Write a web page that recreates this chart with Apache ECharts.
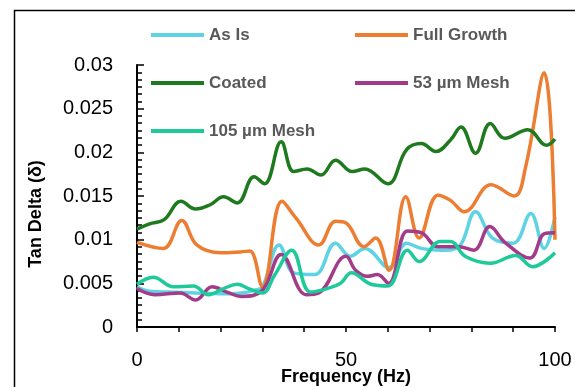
<!DOCTYPE html>
<html>
<head>
<meta charset="utf-8">
<script src="https://cdn.jsdelivr.net/npm/echarts@6/dist/echarts.min.js"></script>
<style>
  html, body { margin: 0; padding: 0; background: #fff; }
  #chart { width: 575px; height: 387px; }
</style>
</head>
<body>
<div id="chart"></div>
<script>
// [frequency (Hz), tan delta]
const asIs = [
  [0, 0.0046], [3, 0.0041], [8, 0.0040], [14, 0.0039], [20, 0.0038], [25, 0.0039],
  [28, 0.0042], [30, 0.0046], [34, 0.0094], [37.5, 0.0062], [42.5, 0.0060], [47.5, 0.0096],
  [51, 0.0081], [54.5, 0.0090], [60.3, 0.0068], [64.5, 0.0096], [68, 0.0090], [73, 0.0088],
  [77, 0.0092], [81, 0.0132], [85, 0.0102], [90, 0.0096], [94.2, 0.0130], [97.4, 0.0090],
  [100, 0.0126]
]
const fullGrowth = [
  [0, 0.0097], [6.3, 0.0090], [10.7, 0.0122], [14.3, 0.0094], [20, 0.0085], [24.7, 0.0086],
  [27, 0.0087], [30, 0.0046], [34.7, 0.0144], [38, 0.0125], [43.5, 0.0094], [47.5, 0.0121],
  [50, 0.0119], [54.3, 0.0092], [57.1, 0.0102], [60.3, 0.0065], [64.3, 0.0149], [67.5, 0.0102],
  [72, 0.0151], [75, 0.0145], [78.3, 0.0132], [84.7, 0.0163], [90.2, 0.0150], [93, 0.0184],
  [97.4, 0.0291], [100, 0.0100]
]
const coated = [
  [0, 0.0112], [3, 0.0118], [6.5, 0.0123], [10.5, 0.0144], [14, 0.0135], [17.5, 0.0140],
  [20.7, 0.0149], [24, 0.0142], [28, 0.0172], [30.5, 0.0164], [34.5, 0.0212], [37.5, 0.0178],
  [40.7, 0.0181], [44, 0.0174], [47.5, 0.0191], [51.5, 0.0178], [54.5, 0.0181], [60, 0.0164],
  [64.5, 0.0203], [68, 0.0210], [71.5, 0.0201], [75, 0.0214], [77.5, 0.0229], [81, 0.0199],
  [84.5, 0.0233], [88, 0.0216], [93.5, 0.0226], [98, 0.0208], [100, 0.0215]
]
const mesh53 = [
  [0, 0.0044], [4.3, 0.0037], [10.3, 0.0039], [14, 0.0031], [18, 0.0046], [21.5, 0.0040],
  [25, 0.0035], [30, 0.0042], [34.5, 0.0083], [40.5, 0.0037], [43.5, 0.0039], [50, 0.0081],
  [52.3, 0.0065], [55.1, 0.0058], [57.5, 0.0060], [60.2, 0.0050], [64.7, 0.0110], [68, 0.0108],
  [72, 0.0092], [77, 0.0092], [80.6, 0.0088], [84.4, 0.0115], [88, 0.0097], [94, 0.0079],
  [97.5, 0.0107], [100, 0.0108]
]
const mesh105 = [
  [0, 0.0049], [3.9, 0.0057], [8.7, 0.0046], [13.5, 0.0047], [17.1, 0.0037], [20.7, 0.0044],
  [24, 0.0049], [26.7, 0.0044], [30, 0.0039], [33, 0.0060], [37, 0.0088], [41.5, 0.0040],
  [45.5, 0.0044], [48.7, 0.0050], [51.3, 0.0062], [56, 0.0049], [60, 0.0047], [64.7, 0.0088],
  [67.5, 0.0075], [72.5, 0.0098], [75, 0.0098], [78.5, 0.0081], [84.5, 0.0073], [90.6, 0.0082],
  [94.6, 0.0069], [100, 0.0085]
]

const seriesNames = ['As Is', 'Full Growth', 'Coated', '53 µm Mesh', '105 µm Mesh']
const seriesData = [asIs, fullGrowth, coated, mesh53, mesh105]
const seriesColors = ['#5dd3e4', '#ed7d31', '#1f7a1f', '#a23b8a', '#1ec99a']
const xLabels = [0, 50, 100]

const font = 'Liberation Sans'
const chart = echarts.init(document.getElementById('chart'))

const legendText = {
  fontFamily: font,
  fontSize: 17,
  fontWeight: 'bold',
  color: '#595959',
  lineHeight: 20
}
const legendBase = {
  orient: 'vertical',
  icon: 'rect',
  itemWidth: 53,
  itemHeight: 4,
  itemGap: 28,
  padding: 0,
  top: 25,
  textStyle: legendText,
  selectedMode: false
}

const option = {
  animation: false,
  graphic: [{
    type: 'rect',
    left: 12,
    top: 8,
    shape: { width: 620, height: 420 },
    style: { fill: 'none', stroke: '#000', lineWidth: 1.5 },
    silent: true
  }],
  legend: [
    Object.assign({}, legendBase, { left: 151, data: [seriesNames[0], seriesNames[2], seriesNames[4]] }),
    Object.assign({}, legendBase, { left: 355, data: [seriesNames[1], seriesNames[3]] })
  ],
  grid: {
    left: 137,
    right: 20,
    top: 65,
    bottom: 60,
    outerBoundsMode: 'none'
  },
  xAxis: {
    type: 'value',
    min: 0,
    max: 100,
    interval: 10,
    name: 'Frequency (Hz)',
    nameLocation: 'middle',
    nameGap: 41,
    nameMoveOverlap: false,
    nameTextStyle: { fontFamily: font, fontSize: 18, fontWeight: 'bold', color: '#000' },
    axisLine: { lineStyle: { color: '#000', width: 2 } },
    axisTick: { show: true, inside: false, length: 5, lineStyle: { color: '#000', width: 1.5 } },
    axisLabel: {
      margin: 23,
      fontFamily: font,
      fontSize: 20,
      color: '#000',
      formatter: (v) => (xLabels.includes(v) ? String(v) : '')
    },
    splitLine: { show: false }
  },
  yAxis: {
    type: 'value',
    min: 0,
    max: 0.03,
    interval: 0.005,
    name: 'Tan Delta (δ)',
    nameLocation: 'middle',
    nameGap: 92,
    nameMoveOverlap: false,
    nameTextStyle: {
      fontFamily: font,
      fontSize: 18,
      fontWeight: 'bold',
      color: '#000',
      padding: [0, 36, 0, 0]
    },
    axisLine: { show: true, lineStyle: { color: '#000', width: 2 } },
    axisTick: { show: true, inside: true, length: 7, lineStyle: { color: '#000', width: 1.5 } },
    minorTick: { show: true, splitNumber: 6, length: 5, lineStyle: { color: '#000', width: 1.5 } },
    axisLabel: { margin: 24, fontFamily: font, fontSize: 20, color: '#000' },
    splitLine: { show: false }
  },
  series: seriesNames.map((name, i) => ({
    name: name,
    type: 'line',
    data: seriesData[i],
    smooth: 0.4,
    symbol: 'none',
    color: seriesColors[i],
    lineStyle: { width: 3.5, color: seriesColors[i] }
  }))
}

chart.setOption(option)
</script>
</body>
</html>
